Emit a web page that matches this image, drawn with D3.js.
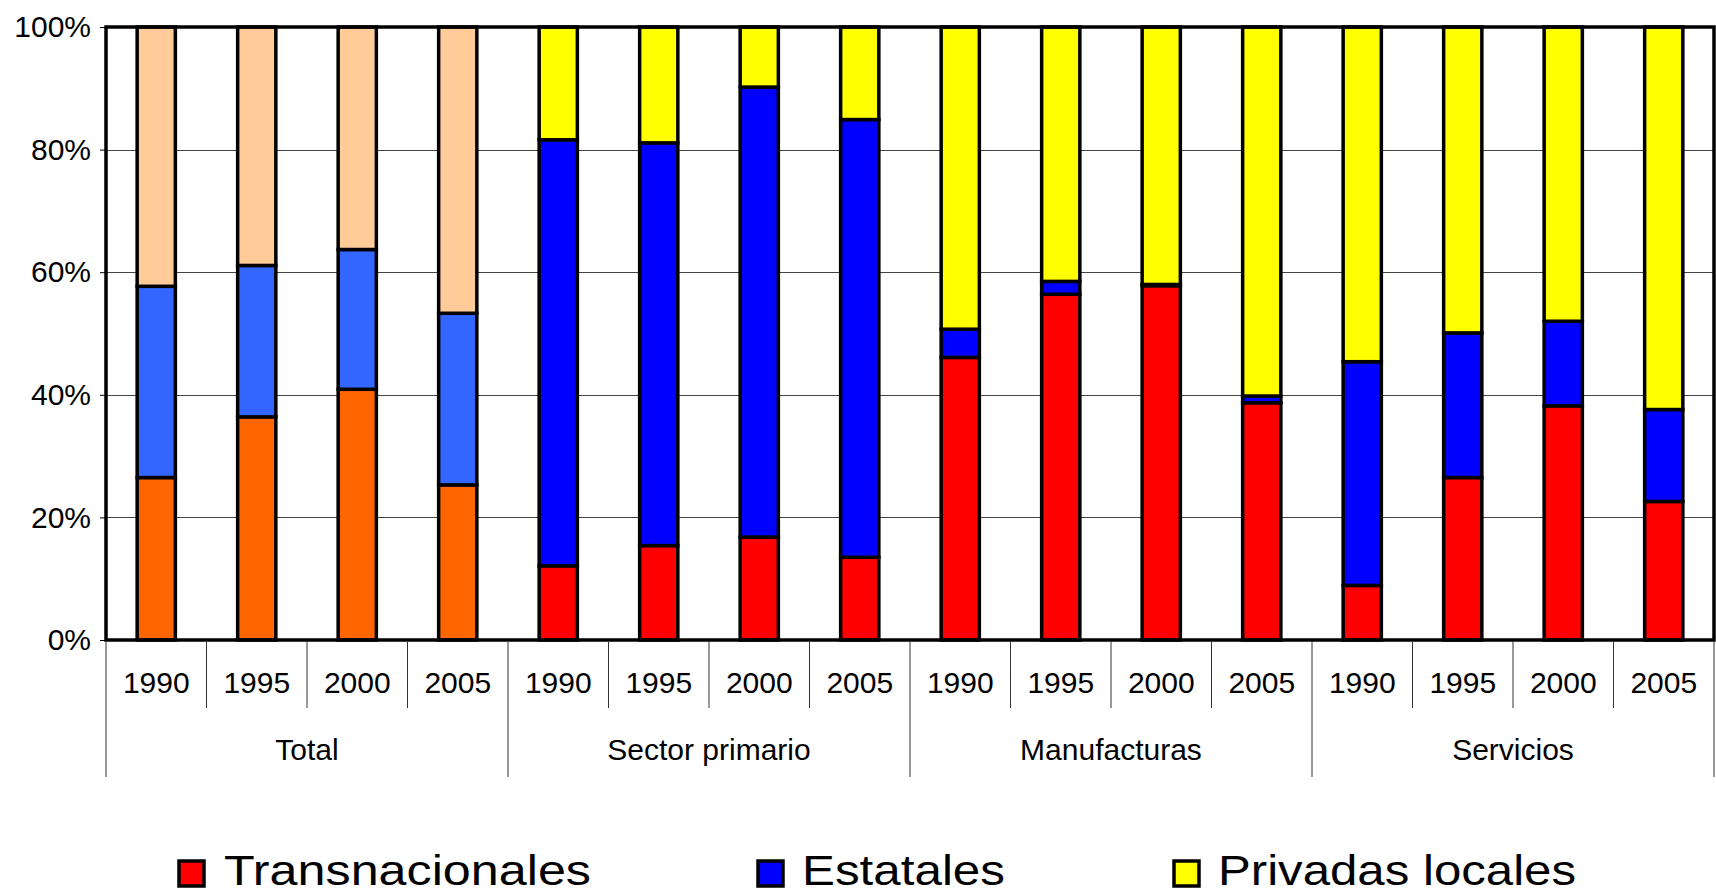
<!DOCTYPE html>
<html>
<head>
<meta charset="utf-8">
<script src="https://cdn.jsdelivr.net/npm/d3@7/dist/d3.min.js"></script>
<style>
  html, body { margin: 0; padding: 0; background: #fff; }
  svg { display: block; font-family: "Liberation Sans", Arial, sans-serif; }
</style>
</head>
<body>
<svg id="chart" width="1716" height="896"></svg>
<script>
// ---- Data ----
const groups = ["Total", "Sector primario", "Manufacturas", "Servicios"];
const years = ["1990", "1995", "2000", "2005"];
const seriesNames = ["Transnacionales", "Estatales", "Privadas locales"];
// percentages per bar (group-major order)
const transnacionales = [26.5, 36.4, 40.9, 25.3, 12.1, 15.4, 16.8, 13.5, 46.1, 56.4, 57.8, 38.7, 8.9, 26.5, 38.2, 22.6];
const estatales      = [31.2, 24.7, 22.8, 28.0, 69.5, 65.7, 73.4, 71.4, 4.6, 2.1, 0.2, 1.1, 36.5, 23.6, 13.8, 15.0];
const privadas       = [42.3, 38.9, 36.3, 46.7, 18.4, 18.9, 9.8, 15.1, 49.3, 41.5, 42.0, 60.2, 54.6, 49.9, 48.0, 62.4];
const yTicks = [0, 20, 40, 60, 80, 100];
const colorsTotal = ["#FF6600", "#3366FF", "#FFCC99"];
const colorsSector = ["#FF0000", "#0000FF", "#FFFF00"];

(function () {
// ---- Layout ----
const svg = d3.select("#chart");
const pLeft = 106, pRight = 1714, pTop = 27, pBottom = 640;

const bars = [];
groups.forEach((g, gi) => years.forEach((yr, yi) => {
  const i = gi * years.length + yi;
  bars.push({ i, group: g, gi, year: yr, vals: [transnacionales[i], estatales[i], privadas[i]] });
}));

const x = d3.scaleBand().domain(bars.map(d => d.i)).range([pLeft, pRight])
  .paddingInner(0.62).paddingOuter(0.31);
const step = x.step();
const y = d3.scaleLinear().domain([0, 100]).range([pBottom, pTop]);

// gridlines
svg.append("g").selectAll("line").data(yTicks.filter(t => t > 0 && t < 100)).join("line")
  .attr("x1", pLeft).attr("x2", pRight)
  .attr("y1", d => Math.round(y(d)) + 0.5).attr("y2", d => Math.round(y(d)) + 0.5)
  .attr("stroke", "#444").attr("stroke-width", 1);

// stacked bars
const stack = d3.stack().keys([0, 1, 2]).value((d, k) => d.vals[k]);
const stacked = stack(bars);
const barG = svg.append("g");
stacked.forEach((layer, k) => {
  barG.selectAll(null).data(layer).join("rect")
    .attr("x", d => x(d.data.i))
    .attr("width", x.bandwidth())
    .attr("y", d => y(d[1]))
    .attr("height", d => Math.max(0, y(d[0]) - y(d[1])))
    .attr("fill", d => d.data.gi === 0 ? colorsTotal[k] : colorsSector[k])
    .attr("stroke", "#000").attr("stroke-width", 3.5);
});

// plot frame
svg.append("rect").attr("x", pLeft).attr("y", pTop).attr("width", pRight - pLeft).attr("height", pBottom - pTop)
  .attr("fill", "none").attr("stroke", "#000").attr("stroke-width", 3.5);

// y axis
const yAxis = d3.axisLeft(y).tickValues(yTicks).tickFormat(d => d + "%").tickSize(6).tickPadding(9);
const yg = svg.append("g").attr("transform", `translate(${pLeft},0)`).call(yAxis);
yg.select(".domain").remove();
yg.selectAll(".tick line").attr("stroke", "#000").attr("stroke-width", 1);
yg.selectAll(".tick text").attr("font-size", 30).attr("fill", "#000")
  .attr("font-family", "'Liberation Sans', Arial, sans-serif");

// x category separators
const xg = svg.append("g");
const boundaries = d3.range(bars.length + 1);
xg.selectAll("line").data(boundaries).join("line")
  .attr("x1", d => pLeft + d * step).attr("x2", d => pLeft + d * step)
  .attr("y1", pBottom + 1.5)
  .attr("y2", d => d % years.length === 0 ? 777 : 708)
  .attr("stroke", "#333").attr("stroke-width", 1);

// year labels
xg.selectAll("text.year").data(bars).join("text").attr("class", "year")
  .attr("x", d => x(d.i) + x.bandwidth() / 2).attr("y", 693)
  .attr("text-anchor", "middle").attr("font-size", 30).attr("fill", "#000")
  .text(d => d.year);

// group labels
xg.selectAll("text.group").data(groups).join("text").attr("class", "group")
  .attr("x", (d, gi) => pLeft + (gi * years.length + years.length / 2) * step).attr("y", 760)
  .attr("text-anchor", "middle").attr("font-size", 30).attr("fill", "#000")
  .text(d => d);

// legend
const legendPos = [{ sx: 179, tx: 224, w: 367 }, { sx: 758, tx: 802, w: 203 }, { sx: 1174, tx: 1218, w: 358 }];
const lg = svg.append("g");
seriesNames.forEach((name, k) => {
  const p = legendPos[k];
  lg.append("rect").attr("x", p.sx).attr("y", 861).attr("width", 25).attr("height", 25)
    .attr("fill", colorsSector[k]).attr("stroke", "#000").attr("stroke-width", 3.5);
  lg.append("text").attr("x", p.tx).attr("y", 885).attr("font-size", 43).attr("fill", "#000")
    .attr("textLength", p.w).attr("lengthAdjust", "spacingAndGlyphs")
    .text(name);
});
})();
</script>
</body>
</html>
